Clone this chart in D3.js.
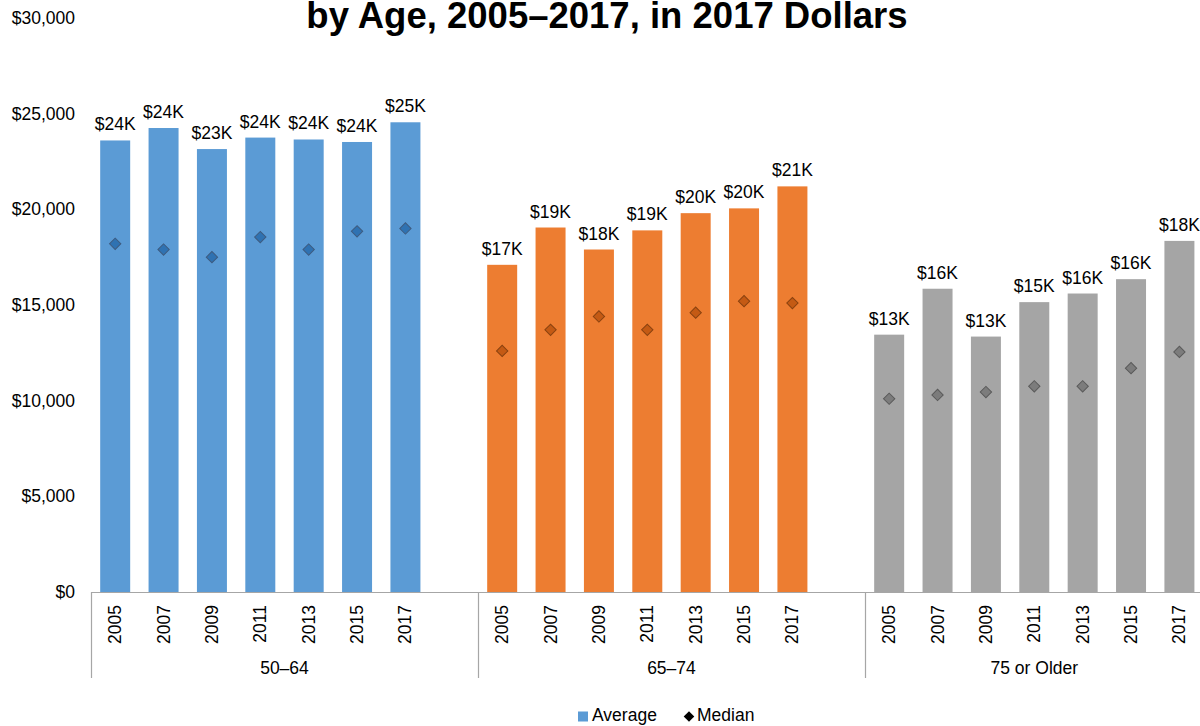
<!DOCTYPE html>
<html>
<head>
<meta charset="utf-8">
<script src="https://cdn.jsdelivr.net/npm/d3@7"></script>
<style>
  html, body { margin: 0; padding: 0; background: #fff; overflow: hidden; }
  svg { display: block; font-family: "Liberation Sans", Arial, sans-serif; }
</style>
</head>
<body>
<svg id="chart" width="1200" height="726"></svg>
<script>
// Age groups and survey years
const groups = ["50–64", "65–74", "75 or Older"];
const years = ["2005", "2007", "2009", "2011", "2013", "2015", "2017"];

// Average spending per group (2017 dollars)
const avg5064 = [23600, 24250, 23150, 23750, 23650, 23520, 24550];
const avg6574 = [17100, 19050, 17900, 18900, 19800, 20050, 21200];
const avg75 = [13450, 15850, 13350, 15150, 15600, 16350, 18350];

// Median spending per group (2017 dollars)
const med5064 = [18200, 17900, 17500, 18550, 17900, 18850, 19000];
const med6574 = [12600, 13700, 14400, 13700, 14600, 15200, 15100];
const med75 = [10100, 10300, 10450, 10750, 10750, 11700, 12550];

// Y axis ticks
const yTicks = [0, 5000, 10000, 15000, 20000, 25000, 30000];

const titleText = "by Age, 2005–2017, in 2017 Dollars";

const barColors = ["#5B9BD5", "#ED7D31", "#A5A5A5"];
const medFill = ["#2F72B2", "#C45A14", "#7C7C7C"];
const medStroke = ["#3E5C80", "#8A4210", "#5A5A5A"];

const avgSeries = [avg5064, avg6574, avg75];
const medSeries = [med5064, med6574, med75];

// Flatten into one row per bar, with a blank slot between groups
const rows = [];
const slots = [];
groups.forEach((g, gi) => {
  years.forEach((y, yi) => {
    const key = g + "|" + y;
    slots.push(key);
    rows.push({ key, group: g, gi, year: y, avg: avgSeries[gi][yi], med: medSeries[gi][yi] });
  });
  if (gi < groups.length - 1) slots.push(g + "|gap");
});

const svg = d3.select("#chart");
const font = 17.5;

const x = d3.scaleBand().domain(slots).range([91, 1203.6]).padding(0);
const y = d3.scaleLinear().domain([0, 30000]).range([592, 18]);
const bw = x.bandwidth();
const barW = bw * 0.62;

// Title
svg.append("text")
  .attr("x", 607).attr("y", 28)
  .attr("text-anchor", "middle")
  .attr("font-size", 36.5).attr("font-weight", "bold")
  .attr("fill", "#000")
  .text(titleText);

// Y axis labels
const yAxis = d3.axisLeft(y).tickValues(yTicks).tickFormat(d3.format("$,")).tickSize(0).tickPadding(0);
const yg = svg.append("g").attr("transform", "translate(75,0)").call(yAxis);
yg.select(".domain").remove();
yg.selectAll("text").attr("font-size", font).attr("fill", "#000")
  .attr("font-family", "Liberation Sans, Arial, sans-serif");

// Bars
svg.append("g").selectAll("rect").data(rows).join("rect")
  .attr("x", d => x(d.key) + (bw - barW) / 2)
  .attr("width", barW)
  .attr("y", d => y(d.avg))
  .attr("height", d => y(0) - y(d.avg))
  .attr("fill", d => barColors[d.gi]);

// Value labels
svg.append("g").selectAll("text").data(rows).join("text")
  .attr("x", d => x(d.key) + bw / 2)
  .attr("y", d => y(d.avg) - 10)
  .attr("text-anchor", "middle")
  .attr("font-size", font).attr("fill", "#000")
  .text(d => "$" + Math.round(d.avg / 1000) + "K");

// Median markers
const diamond = d3.symbol().type(d3.symbolSquare).size(64);
svg.append("g").selectAll("path").data(rows).join("path")
  .attr("d", diamond)
  .attr("transform", d => `translate(${x(d.key) + bw / 2},${y(d.med)}) rotate(45)`)
  .attr("fill", d => medFill[d.gi])
  .attr("stroke", d => medStroke[d.gi])
  .attr("stroke-width", 1);

// Category axis
const axisColor = "#A6A6A6";
const xg = svg.append("g");
xg.append("line")
  .attr("x1", x.range()[0]).attr("x2", x.range()[1])
  .attr("y1", y(0) + 0.5).attr("y2", y(0) + 0.5)
  .attr("stroke", axisColor).attr("stroke-width", 1.2);

const groupSpans = groups.map((g, gi) => {
  const first = x(g + "|" + years[0]);
  const endKey = gi < groups.length - 1 ? g + "|gap" : g + "|" + years[years.length - 1];
  return { g, start: first, end: x(endKey) + bw };
});

const bounds = [groupSpans[0].start, ...groupSpans.map(s => s.end)];
xg.selectAll("line.sep").data(bounds).join("line")
  .attr("class", "sep")
  .attr("x1", d => Math.round(d) + 0.5).attr("x2", d => Math.round(d) + 0.5)
  .attr("y1", y(0)).attr("y2", 678)
  .attr("stroke", axisColor).attr("stroke-width", 1.2);

// Year labels, rotated
xg.selectAll("text.year").data(rows).join("text")
  .attr("class", "year")
  .attr("transform", d => `translate(${x(d.key) + bw / 2},605) rotate(-90)`)
  .attr("text-anchor", "end")
  .attr("dominant-baseline", "central")
  .attr("font-size", font).attr("fill", "#000")
  .text(d => d.year);

// Group labels
xg.selectAll("text.grp").data(groupSpans).join("text")
  .attr("class", "grp")
  .attr("x", d => (d.start + d.end) / 2)
  .attr("y", 674)
  .attr("text-anchor", "middle")
  .attr("font-size", font).attr("fill", "#000")
  .text(d => d.g);

// Legend
const lg = svg.append("g");
lg.append("rect").attr("x", 578).attr("y", 711.5).attr("width", 10).attr("height", 10).attr("fill", barColors[0]);
lg.append("text").attr("x", 592).attr("y", 721).attr("font-size", font).attr("fill", "#000").text("Average");
lg.append("path").attr("d", d3.symbol().type(d3.symbolSquare).size(56))
  .attr("transform", "translate(689,716.5) rotate(45)").attr("fill", "#000");
lg.append("text").attr("x", 697).attr("y", 721).attr("font-size", font).attr("fill", "#000").text("Median");
</script>
</body>
</html>
